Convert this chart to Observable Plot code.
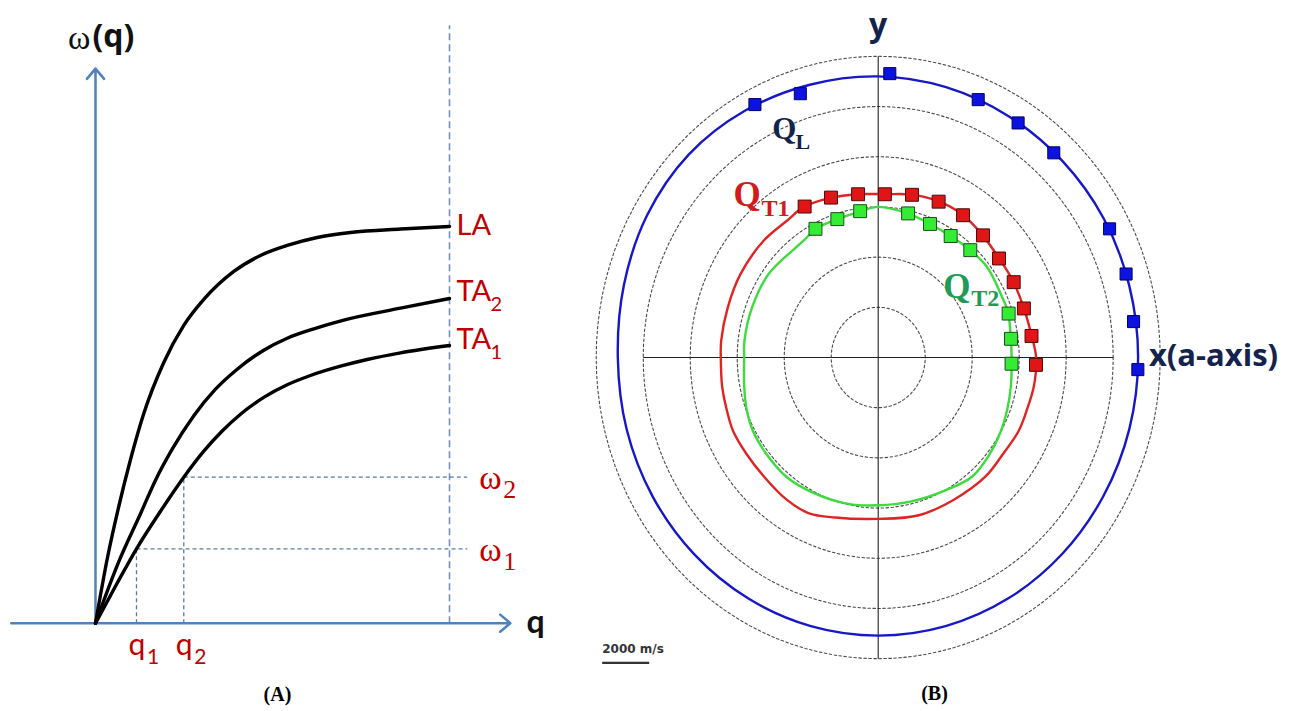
<!DOCTYPE html>
<html><head><meta charset="utf-8">
<script src="https://cdn.jsdelivr.net/npm/d3@7"></script>
<script src="https://cdn.jsdelivr.net/npm/@observablehq/plot@0.6"></script>
<style>
html,body{margin:0;padding:0;background:#fff;}
#wrap{position:relative;width:1293px;height:711px;overflow:hidden;background:#fff;}
#wrap > svg{position:absolute;top:0;}
</style></head><body><div id="wrap"></div>
<script>
// ================= Panel A : dispersion curves (q normalised to zone edge = 1, omega to LA max = 1)
const qLA  = [0, 0.0339, 0.0664, 0.0989, 0.1364, 0.1929, 0.2494, 0.3059, 0.3907, 0.4661, 0.5415, 0.6263, 0.7203, 0.8616, 1.0];
const wLA  = [0, 0.1656, 0.2967, 0.4126, 0.5287, 0.6573, 0.7506, 0.8161, 0.8867, 0.9270, 0.9522, 0.9723, 0.9849, 0.9937, 1.0];
const qTA2 = [0, 0.0658, 0.1271, 0.1695, 0.2167, 0.2777, 0.3390, 0.4003, 0.4754, 0.5415, 0.6167, 0.7014, 0.8616, 1.0];
const wTA2 = [0, 0.1553, 0.2760, 0.3605, 0.4386, 0.5231, 0.5899, 0.6403, 0.6882, 0.7184, 0.7421, 0.7641, 0.7941, 0.8185];
const qTA1 = [0, 0.0599, 0.1158, 0.1836, 0.2494, 0.3059, 0.3579, 0.4096, 0.4754, 0.5415, 0.6073, 0.6921, 0.7675, 0.8616, 1.0];
const wTA1 = [0, 0.0988, 0.1876, 0.2823, 0.3680, 0.4336, 0.4845, 0.5268, 0.5692, 0.6010, 0.6244, 0.6478, 0.6647, 0.6816, 0.7000];
const qMarks = [0.1158, 0.2494];     // q1, q2
const wMarks = [0.1876, 0.3680];     // omega1, omega2
const qZone = 1.0;
const branchLabels = ["LA", "TA", "TA"];
const branchSubs = ["", "2", "1"];

// ================= Panel B : velocity surfaces (m/s), angle in degrees from x (a-axis)
const ringVel = [2000, 4000, 6000, 8000, 10000, 12000];
const qlLineAng = [0, 15, 30, 45, 60, 75, 90, 105, 120, 135, 150, 165, 180, 195, 210, 225, 240, 255, 270, 285, 300, 315, 330, 345];
const qlLineVel = [11060, 11060, 11080, 11080, 11100, 11150, 11200, 11250, 11350, 11420, 11350, 11200, 11080, 11080, 11080, 11080, 11080, 11080, 11080, 11080, 11080, 11070, 11060, 11060];
const qt1LineX = [6720, 6532, 6196, 5724, 5124, 4404, 3578, 2524, 1412, 286, -902, -2030, -3162, -3872, -4868, -5860, -6400, -6680, -6698, -6642, -6456, -6170, -5604, -4856, -3910, -2970, -1842, 0, 1732, 3238, 4558, 5310, 5970, 6344, 6626];
const qt1LineY = [0, 852, 1972, 3076, 3980, 4916, 5698, 6236, 6490, 6506, 6506, 6360, 6000, 5460, 4660, 3320, 2000, 678, 0, -1136, -2040, -2940, -3844, -4750, -5654, -6196, -6374, -6430, -6284, -5654, -4750, -3844, -2940, -2040, -1136];
const qt2LineX = [5680, 5638, 5524, 5276, 4638, 3852, 3042, 2166, 1280, 0, -754, -1748, -2642, -3166, -4656, -5362, -5690, -5702, -5702, -5604, -5324, -4758, -3910, -2782, -1276, 0, 1358, 2864, 3992, 4746, 5218, 5498, 5646];
const qt2LineY = [0, 836, 1808, 2402, 3598, 4326, 4860, 5338, 5730, 6000, 5824, 5506, 5140, 4662, 3334, 2004, 678, 0, -1136, -2040, -2940, -3844, -4750, -5382, -5832, -5888, -5742, -5290, -4750, -3844, -2940, -2040, -1136];
const qlAng = [-2.5, 7.5, 17.5, 27.5, 47.5, 57.5, 67.5, 87.5, 107.5, 117.5];
const qlVel = [11060, 10960, 11060, 11100, 11060, 11080, 11120, 11320, 11020, 11360];
const qt1Ang = [-2.5, 7.5, 17.5, 27.5, 37.5, 47.5, 57.5, 67.5, 77.5, 87.5, 97.5, 107.5, 117.5];
const qt1Vel = [6720, 6580, 6500, 6500, 6480, 6600, 6720, 6720, 6640, 6510, 6560, 6680, 6780];
const qt2Ang = [-2.5, 7.5, 17.5, 47.5, 57.5, 67.5, 77.5, 97.5, 107.5, 117.5];
const qt2Vel = [5680, 5700, 5820, 5800, 5740, 5760, 5880, 5880, 5780, 5780];
const scaleBar = 2000;

// helpers
const rows = (xs, ys) => xs.map((x, i) => ({x, y: ys[i]}));
const rad = Math.PI / 180;
const polar = (angs, vels) => angs.map((a, i) => ({x: vels[i] * Math.cos(a * rad), y: vels[i] * Math.sin(a * rad)}));
const L = {x1: "x1", y1: "y1", x2: "x2", y2: "y2"};
const txt = (data, o) => Plot.text(data, {x: "x", y: "y", text: "t", lineAnchor: "bottom", ...o});

const wrap = document.getElementById("wrap");

// ---------------- Panel A ----------------
const axisBlue = "#4f81bd", redTxt = "#c00000";
const ends = [[qLA.at(-1), wLA.at(-1)], [qTA2.at(-1), wTA2.at(-1)], [qTA1.at(-1), wTA1.at(-1)]];
const baseDy = [8, 2, 3];
const brMain = ends.map((e, i) => ({x: e[0], y: e[1], t: branchLabels[i], dy: baseDy[i]}));
const brSub = ends.map((e, i) => ({x: e[0], y: e[1], t: branchSubs[i], dy: baseDy[i] + 10}));

const plotA = Plot.plot({
  width: 590, height: 711, margin: 0,
  style: {background: "transparent", overflow: "visible"},
  x: {domain: [0, 1], range: [95, 449], axis: null},
  y: {domain: [0, 1], range: [622.7, 226], axis: null},
  marks: [
    Plot.link([{x1: qZone, y1: 0, x2: qZone, y2: 1.507}], {...L, stroke: "#7392ba", strokeWidth: 1.6, strokeDasharray: "7,4"}),
    Plot.link(qMarks.map((q, i) => ({x1: q, y1: wMarks[i], x2: 1.05, y2: wMarks[i]})), {...L, stroke: "#5d7a9c", strokeWidth: 1.3, strokeDasharray: "4,3"}),
    Plot.link(qMarks.map((q, i) => ({x1: q, y1: 0, x2: q, y2: wMarks[i]})), {...L, stroke: "#5d7a9c", strokeWidth: 1.3, strokeDasharray: "4,3"}),
    Plot.arrow([{x1: -0.238, y1: 0, x2: 1.172, y2: 0}, {x1: 0, y1: 0, x2: 0, y2: 1.398}], {...L, stroke: axisBlue, strokeWidth: 2.5, headLength: 8, headAngle: 80}),
    Plot.line(rows(qLA, wLA), {x: "x", y: "y", curve: "monotone-x", stroke: "#000", strokeWidth: 3.4}),
    Plot.line(rows(qTA2, wTA2), {x: "x", y: "y", curve: "monotone-x", stroke: "#000", strokeWidth: 3.4}),
    Plot.line(rows(qTA1, wTA1), {x: "x", y: "y", curve: "monotone-x", stroke: "#000", strokeWidth: 3.4}),
    // branch labels
    ...brMain.map(d => txt([d], {dx: 7, dy: d.dy, textAnchor: "start", fill: redTxt, fontSize: 29, fontFamily: "Lato"})),
    ...brSub.map(d => txt([d], {dx: 41, dy: d.dy, textAnchor: "start", fill: redTxt, fontSize: 20, fontFamily: "Lato"})),
    // omega labels
    txt(wMarks.map(w => ({x: 1.05, y: w, t: "ω"})), {dx: 12, dy: 12, textAnchor: "start", fill: redTxt, fontSize: 34, fontFamily: "Liberation Serif"}),
    txt(wMarks.map((w, i) => ({x: 1.05, y: w, t: String(i + 1)})), {dx: 36, dy: 21, textAnchor: "start", fill: redTxt, fontSize: 26, fontFamily: "Liberation Serif"}),
    // q labels
    txt(qMarks.map(q => ({x: q, y: 0, t: "q"})), {dx: -8, dy: 32, textAnchor: "start", fill: redTxt, fontSize: 30, fontFamily: "Lato"}),
    txt(qMarks.map((q, i) => ({x: q, y: 0, t: String(i + 1)})), {dx: 10.5, dy: 41, textAnchor: "start", fill: redTxt, fontSize: 21, fontFamily: "Lato"}),
    // axis titles
    txt([{x: 0, y: 1.398, t: "ω"}], {dx: -5, dy: -20, textAnchor: "end", fill: "#111", fontSize: 34, fontFamily: "Liberation Serif"}),
    txt([{x: 0, y: 1.398, t: "(q)"}], {dx: -3, dy: -22, textAnchor: "start", fill: "#111", fontSize: 32, fontWeight: "bold", fontFamily: "Open Sans"}),
    txt([{x: 1.172, y: 0, t: "q"}], {dx: 16, dy: 10, textAnchor: "start", fill: "#111", fontSize: 32, fontWeight: "bold", fontFamily: "Lato"}),
    // caption
    txt([{x: 0.514, y: -0.195, t: "(A)"}], {textAnchor: "middle", fill: "#000", fontSize: 20, fontWeight: "bold", fontFamily: "Liberation Serif"})
  ]
});
plotA.style.left = "0px";
wrap.appendChild(plotA);

// ---------------- Panel B ----------------
const cx = 287.7, pxX = 282, cy = 357, pxY = 301.2;
const navy = "#13234d";
const ringPts = ringVel.flatMap(R => d3.range(0, 361, 3).map(a => ({R, x: R * Math.cos(a * rad), y: R * Math.sin(a * rad)})));
const plotB = Plot.plot({
  width: 703, height: 711, margin: 0,
  style: {background: "transparent", overflow: "visible"},
  x: {domain: [-12000, 12000], range: [cx - pxX, cx + pxX], axis: null},
  y: {domain: [-12000, 12000], range: [cy + pxY, cy - pxY], axis: null},
  marks: [
    Plot.line(ringPts, {x: "x", y: "y", z: "R", stroke: "#4a4a4a", strokeWidth: 1.1, strokeDasharray: "2.5,2.5"}),
    Plot.link([{x1: -10000, y1: 0, x2: 10000, y2: 0}, {x1: 0, y1: -12000, x2: 0, y2: 12000}], {...L, stroke: "#222", strokeWidth: 1.1}),
    Plot.line(polar(qlLineAng, qlLineVel), {x: "x", y: "y", curve: "catmull-rom-closed", stroke: "#1717c8", strokeWidth: 2.4}),
    Plot.line(rows(qt1LineX, qt1LineY), {x: "x", y: "y", curve: "catmull-rom-closed", stroke: "#e02424", strokeWidth: 2.4}),
    Plot.line(rows(qt2LineX, qt2LineY), {x: "x", y: "y", curve: "catmull-rom-closed", stroke: "#3ddb3d", strokeWidth: 2.4}),
    Plot.dot(polar(qlAng, qlVel), {x: "x", y: "y", symbol: "square", r: 6.8, fill: "#0c12e0", stroke: "#000066", strokeWidth: 1}),
    Plot.dot(polar(qt1Ang, qt1Vel), {x: "x", y: "y", symbol: "square", r: 7.3, fill: "#e01616", stroke: "#4a0a0a", strokeWidth: 1}),
    Plot.dot(polar(qt2Ang, qt2Vel), {x: "x", y: "y", symbol: "square", r: 7.3, fill: "#35ec35", stroke: "#1d4a1d", strokeWidth: 1}),
    // axis labels
    txt([{x: 0, y: 12000, t: "y"}], {dy: -20.4, textAnchor: "middle", fill: navy, fontSize: 32, fontWeight: "bold", fontFamily: "Open Sans"}),
    txt([{x: 11519, y: 0, t: "x(a-axis)"}], {dy: 8.7, textAnchor: "start", fill: navy, fontSize: 31, fontWeight: "bold", fontFamily: "Open Sans"}),
    // curve labels
    txt([{x: -4511, y: 8725, t: "Q"}], {textAnchor: "start", fill: navy, fontSize: 31, fontWeight: "bold", fontFamily: "Liberation Serif"}),
    txt([{x: -4511, y: 8725, t: "L"}], {dx: 23.3, dy: 10, textAnchor: "start", fill: navy, fontSize: 22, fontWeight: "bold", fontFamily: "Liberation Serif"}),
    txt([{x: -6157, y: 6016, t: "Q"}], {textAnchor: "start", fill: "#d01c1c", fontSize: 35, fontWeight: "bold", fontFamily: "Liberation Serif"}),
    txt([{x: -6157, y: 6016, t: "T1"}], {dx: 28, dy: 10, textAnchor: "start", fill: "#d01c1c", fontSize: 24, fontWeight: "bold", fontFamily: "Liberation Serif"}),
    txt([{x: 2766, y: 2351, t: "Q"}], {textAnchor: "start", fill: "#1e9b57", fontSize: 35, fontWeight: "bold", fontFamily: "Liberation Serif"}),
    txt([{x: 2766, y: 2351, t: "T2"}], {dx: 28, dy: 8, textAnchor: "start", fill: "#1e9b57", fontSize: 24, fontWeight: "bold", fontFamily: "Liberation Serif"}),
    // scale bar
    Plot.link([{x1: -11745, y1: -12163, x2: -11745 + scaleBar, y2: -12163}], {...L, stroke: "#333", strokeWidth: 2.2}),
    txt([{x: -11745, y: -11781, t: `${scaleBar} m/s`}], {textAnchor: "start", fill: "#333", fontSize: 12, fontWeight: "bold", fontFamily: "DejaVu Sans"}),
    // caption
    txt([{x: 2396, y: -13665, t: "(B)"}], {textAnchor: "middle", fill: "#000", fontSize: 20, fontWeight: "bold", fontFamily: "Liberation Serif"})
  ]
});
plotB.style.left = "590px";
wrap.appendChild(plotB);
</script></body></html>
